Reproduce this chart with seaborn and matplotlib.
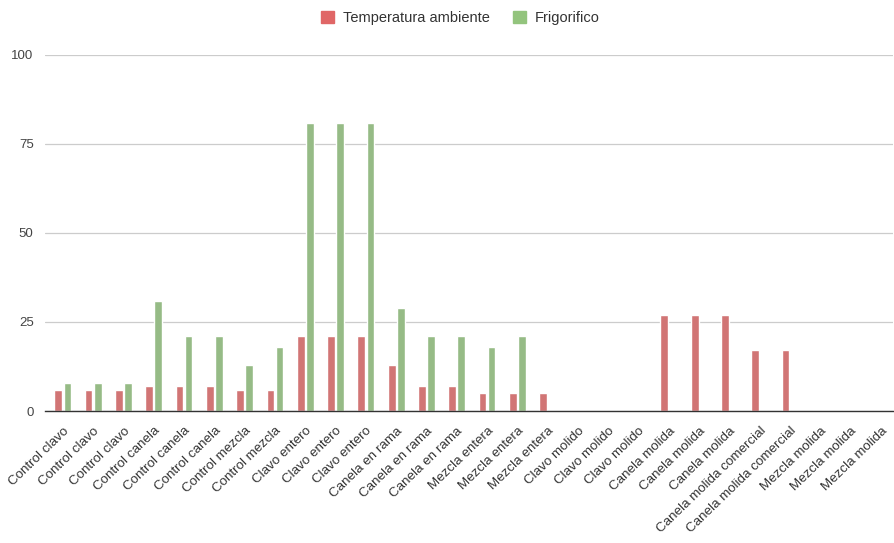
import pandas as pd
import seaborn as sns
import matplotlib.pyplot as plt
import matplotlib.transforms as mtransforms

# Datos
muestras = ["Control clavo", "Control clavo", "Control clavo",
            "Control canela", "Control canela", "Control canela",
            "Control mezcla", "Control mezcla",
            "Clavo entero", "Clavo entero", "Clavo entero",
            "Canela en rama", "Canela en rama", "Canela en rama",
            "Mezcla entera", "Mezcla entera", "Mezcla entera",
            "Clavo molido", "Clavo molido", "Clavo molido",
            "Canela molida", "Canela molida", "Canela molida",
            "Canela molida comercial", "Canela molida comercial",
            "Mezcla molida", "Mezcla molida", "Mezcla molida"]
temp_ambiente = [6, 6, 6, 7, 7, 7, 6, 6, 21, 21, 21, 13, 7, 7, 5, 5, 5,
                 0, 0, 0, 27, 27, 27, 17, 17, 0, 0, 0]
frigorifico = [8, 8, 8, 31, 21, 21, 13, 18, 81, 81, 81, 29, 21, 21, 18, 21, 0,
               0, 0, 0, 0, 0, 0, 0, 0, 0, 0, 0]
series = ["Temperatura ambiente", "Frigorifico"]
colores = ["#E06666", "#93C47D"]

df = pd.DataFrame({
    "pos": list(range(len(muestras))) * 2,
    "valor": temp_ambiente + frigorifico,
    "serie": [series[0]] * len(muestras) + [series[1]] * len(muestras),
})

sns.set_style("white")
plt.rcParams["font.family"] = ["Liberation Sans", "DejaVu Sans"]

fig = plt.figure(figsize=(8.94, 5.43), dpi=100)
ax = fig.add_axes([0.05, 0.243, 0.949, 0.656])

sns.barplot(data=df, x="pos", y="valor", hue="serie", hue_order=series,
            palette=colores, width=0.6, gap=0.15, ax=ax, legend=False)

ax.set_ylim(0, 100)
ax.set_yticks([0, 25, 50, 75, 100])
ax.yaxis.grid(True, color="#cccccc", linewidth=0.9)
ax.set_axisbelow(True)
ax.set_xlim(-0.6, len(muestras) - 0.6)
ax.set_xticks(range(len(muestras)))
ax.set_xticklabels(muestras, rotation=44, ha="right", rotation_mode="anchor",
                   fontsize=9.6, color="#333333")
# desplazar un poco las etiquetas a la derecha
offset = mtransforms.ScaledTranslation(4 / 100, 0, fig.dpi_scale_trans)
for lbl in ax.get_xticklabels():
    lbl.set_transform(lbl.get_transform() + offset)
ax.tick_params(axis="y", labelsize=9.5, colors="#444444", length=0, pad=8)
ax.tick_params(axis="x", length=0, pad=10)
ax.set_xlabel("")
ax.set_ylabel("")
for s in ["left", "right", "top"]:
    ax.spines[s].set_visible(False)
ax.spines["bottom"].set_color("#333333")
ax.spines["bottom"].set_linewidth(1)

handles = [plt.Rectangle((0, 0), 1, 1, color=c) for c in colores]
fig.legend(handles, series, loc="center", bbox_to_anchor=(0.515, 0.967), ncol=2,
           frameon=False, fontsize=10.5, handlelength=0.9, handleheight=0.9,
           columnspacing=1.6, handletextpad=0.6, labelcolor="#333333")

fig.savefig("out.png", dpi=100)
